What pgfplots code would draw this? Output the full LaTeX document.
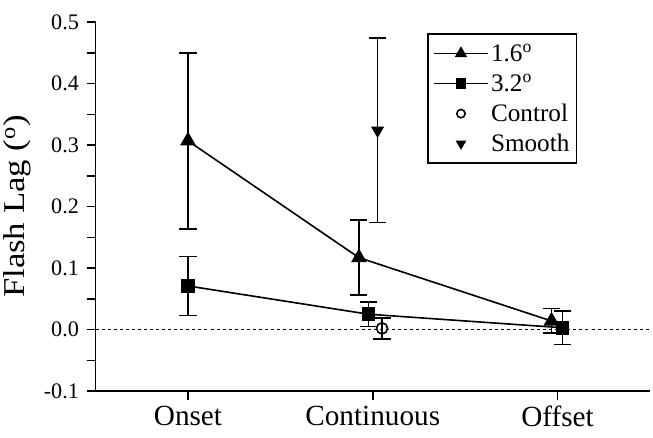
\documentclass[border=0pt]{standalone}
\usepackage{pgfplots}
\pgfplotsset{compat=1.18}
\usepackage{fontspec}
\setmainfont{Liberation Serif}
\begin{document}
\begin{tikzpicture}
\begin{axis}[
  scale only axis,
  width=550pt, height=366pt,
  xmin=-0.5, xmax=2.5,
  ymin=-0.1, ymax=0.5,
  axis x line=bottom, axis y line=left,
  axis line style={-, line width=1.6pt},
  tick align=outside,
  tick style={line width=1.6pt, black},
  major tick length=9pt, minor tick length=9pt,
  xtick={0,1,2},
  xticklabels={Onset,Continuous,Offset},
  ytick={-0.1,0,0.1,0.2,0.3,0.4,0.5},
  yticklabels={-0.1,0.0,0.1,0.2,0.3,0.4,0.5},
  minor ytick={-0.05,0.05,0.15,0.25,0.35,0.45},
  x tick label style={font=\fontsize{29}{33}\selectfont, yshift=-2pt},
  y tick label style={font=\fontsize{22}{26}\selectfont, xshift=-4pt},
  ylabel={\scalebox{1.15}[1]{Flash Lag (\textsuperscript{o})}},
  ylabel style={font=\fontsize{30}{34}\selectfont},
  ylabel shift=6pt,
  legend style={at={(0.598,0.970)}, anchor=north west, draw=black, line width=1.6pt,
    font=\fontsize{25}{30}\selectfont, row sep=7pt, inner xsep=5pt, inner ysep=8pt},
  legend cell align=left,
  legend image code/.code={\draw[mark repeat=2,mark phase=2,/tikz/every mark/.append style={scale=0.75}] plot coordinates {(0pt,0pt)(27pt,0pt)(54pt,0pt)};},
  every axis plot/.append style={line width=1.6pt},
  error bars/error bar style={line width=1.6pt},
  error bars/error mark options={rotate=90, mark size=8.5pt, line width=1.6pt},
  clip=false,
]
\addplot[black, dashed, dash pattern=on 3pt off 3pt, line width=1.2pt, forget plot] coordinates {(-0.5,0) (2.5,0)};
\addplot[black, mark=triangle*, mark size=7.5pt, mark options={solid, fill=black},
  error bars/.cd, y dir=both, y explicit] coordinates {
  (0,0.307) +- (0,0.143)
  (0.925,0.117) +- (0,0.061)
  (1.967,0.014) +- (0,0.020)
};
\addlegendentry{1.6\textsuperscript{o}}
\addplot[black, mark=square*, mark size=6pt, mark options={solid, fill=black},
  error bars/.cd, y dir=both, y explicit] coordinates {
  (0,0.071) +- (0,0.048)
  (0.977,0.025) +- (0,0.020)
  (2.027,0.003) +- (0,0.027)
};
\addlegendentry{3.2\textsuperscript{o}}
\addplot[black, only marks, mark=o, mark size=5.5pt, mark options={solid, fill=white, line width=1.6pt},
  error bars/.cd, y dir=both, y explicit] coordinates {
  (1.05,0.002) +- (0,0.017)
};
\addlegendentry{Control}
\addplot[black, only marks, mark=triangle*, mark size=6pt, mark options={solid, fill=black, rotate=180},
  error bars/.cd, y dir=both, y explicit] coordinates {
  (1.026,0.324) +- (0,0.150)
};
\addlegendentry{Smooth}
\end{axis}
\path ([yshift=22pt]current axis.north) ([xshift=3pt]current axis.east) ([yshift=-46pt]current axis.south) ([xshift=-8pt]current axis.west);
\end{tikzpicture}
\end{document}
